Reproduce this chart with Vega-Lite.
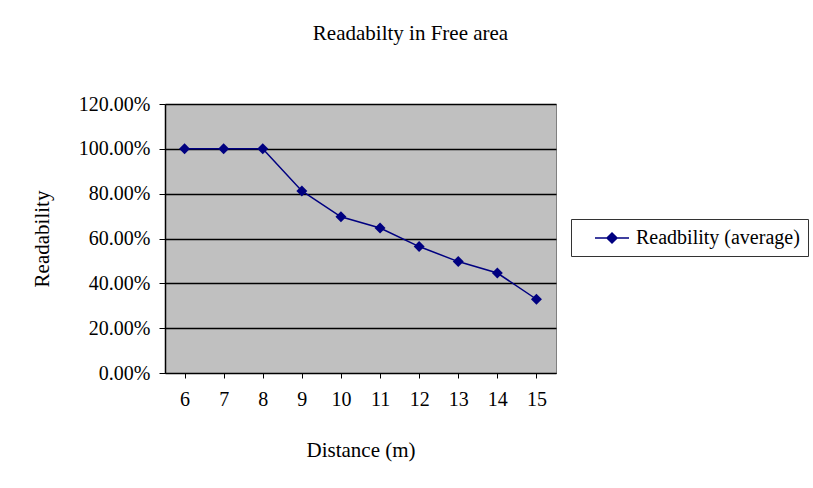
{
  "$schema": "https://vega.github.io/schema/vega-lite/v6.json",
  "width": 391,
  "height": 269,
  "autosize": {"type": "none"},
  "padding": {"left": 165, "top": 104, "right": 257, "bottom": 115},
  "background": "white",
  "title": {
    "text": "Readabilty in Free area",
    "anchor": "middle",
    "frame": "group",
    "dx": 50,
    "offset": 50,
    "font": "Liberation Serif",
    "fontSize": 21,
    "fontWeight": "normal",
    "color": "black"
  },
  "data": {
    "values": [
      {"distance": "6", "readability": 1.0, "series": "Readbility (average)"},
      {"distance": "7", "readability": 1.0, "series": "Readbility (average)"},
      {"distance": "8", "readability": 1.0, "series": "Readbility (average)"},
      {"distance": "9", "readability": 0.812, "series": "Readbility (average)"},
      {"distance": "10", "readability": 0.697, "series": "Readbility (average)"},
      {"distance": "11", "readability": 0.647, "series": "Readbility (average)"},
      {"distance": "12", "readability": 0.564, "series": "Readbility (average)"},
      {"distance": "13", "readability": 0.497, "series": "Readbility (average)"},
      {"distance": "14", "readability": 0.446, "series": "Readbility (average)"},
      {"distance": "15", "readability": 0.329, "series": "Readbility (average)"}
    ]
  },
  "encoding": {
    "x": {
      "field": "distance",
      "type": "ordinal",
      "sort": null,
      "scale": {"type": "point", "padding": 0.5},
      "axis": {
        "title": "Distance (m)",
        "labelAngle": 0,
        "grid": false,
        "domainColor": "black",
        "tickColor": "black",
        "tickSize": 5,
        "labelPadding": 11,
        "titlePadding": 30,
        "labelFont": "Liberation Serif",
        "labelFontSize": 20,
        "labelColor": "black",
        "titleFont": "Liberation Serif",
        "titleFontSize": 21,
        "titleFontWeight": "normal",
        "titleColor": "black"
      }
    },
    "y": {
      "field": "readability",
      "type": "quantitative",
      "scale": {"domain": [0, 1.2]},
      "axis": {
        "title": "Readability",
        "format": ".2%",
        "values": [0, 0.2, 0.4, 0.6, 0.8, 1.0, 1.2],
        "grid": true,
        "gridColor": "black",
        "gridWidth": 1.5,
        "gridOpacity": 1,
        "domainColor": "black",
        "domainWidth": 1.5,
        "tickColor": "black",
        "tickSize": 6,
        "labelPadding": 9,
        "titlePadding": 26,
        "labelFont": "Liberation Serif",
        "labelFontSize": 20,
        "labelColor": "black",
        "titleFont": "Liberation Serif",
        "titleFontSize": 21,
        "titleFontWeight": "normal",
        "titleColor": "black"
      }
    },
    "color": {
      "field": "series",
      "type": "nominal",
      "scale": {"range": ["#000080"]},
      "legend": {
        "title": null,
        "orient": "none",
        "legendX": 406,
        "legendY": 115,
        "strokeColor": "#333333",
        "fillColor": "white",
        "padding": 8,
        "symbolType": "M-1.7,0H1.7M0,-0.5L0.5,0L0,0.5L-0.5,0Z",
        "symbolSize": 400,
        "symbolOffset": 22,
        "symbolStrokeWidth": 1.5,
        "symbolFillColor": "#000080",
        "symbolStrokeColor": "#000080",
        "labelFont": "Liberation Serif",
        "labelFontSize": 20,
        "labelColor": "black",
        "labelOffset": 13,
        "labelLimit": 400
      }
    }
  },
  "layer": [
    {"mark": {"type": "line", "strokeWidth": 1.5}},
    {"mark": {"type": "point", "shape": "diamond", "filled": true, "size": 120, "opacity": 1}}
  ],
  "config": {
    "view": {"fill": "#c0c0c0", "stroke": "#808080", "strokeWidth": 1}
  }
}
